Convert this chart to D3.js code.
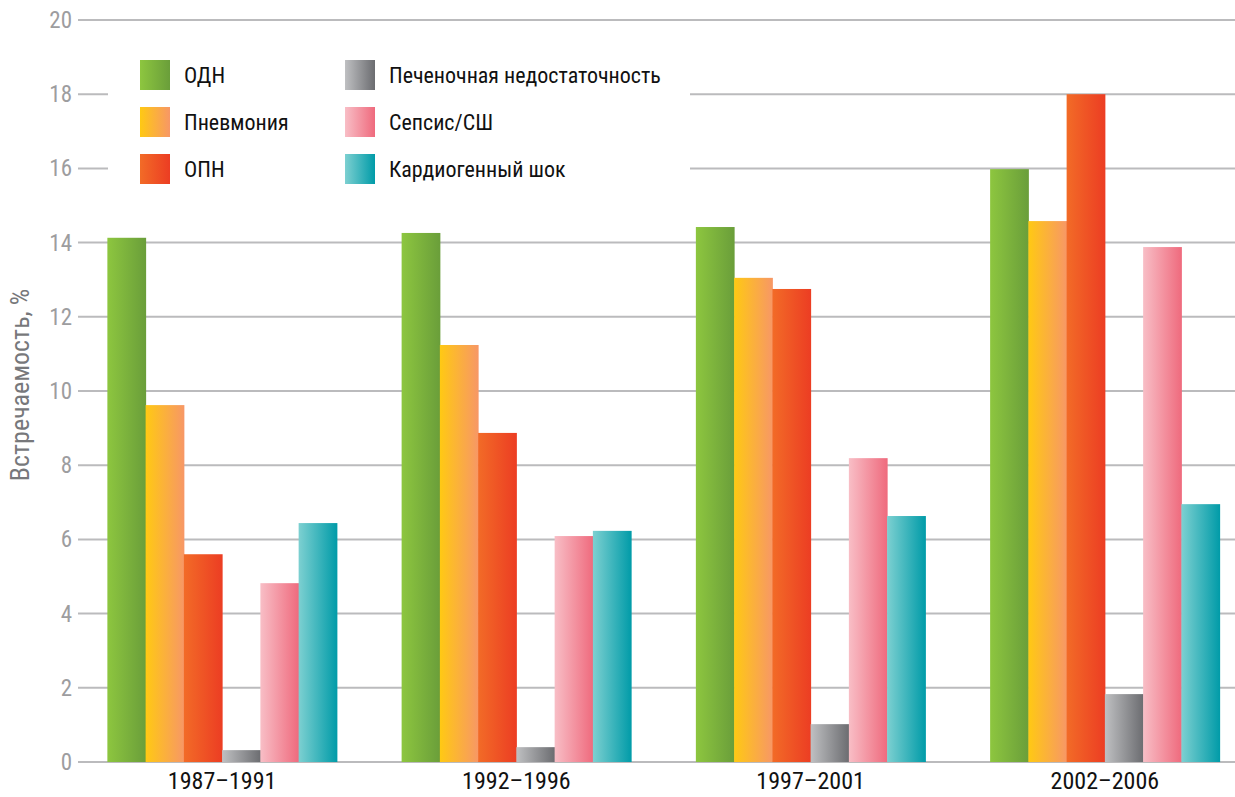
<!DOCTYPE html>
<html><head><meta charset="utf-8">
<script src="https://cdn.jsdelivr.net/npm/d3@7"></script>
<style>
body{margin:0;background:#fff;}
svg text{font-family:"Liberation Sans Narrow","Roboto Condensed","Roboto","Liberation Sans",sans-serif;}
</style></head>
<body><svg id="c" width="1235" height="797"></svg>
<script>
const categories = ["1987–1991","1992–1996","1997–2001","2002–2006"];
const seriesNames = ["ОДН","Пневмония","ОПН","Печеночная недостаточность","Сепсис/СШ","Кардиогенный шок"];
const odn = [14.13, 14.26, 14.42, 15.98];
const pneumonia = [9.62, 11.24, 13.05, 14.58];
const opn = [5.6, 8.87, 12.75, 18.0];
const liver = [0.32, 0.4, 1.02, 1.83];
const sepsis = [4.82, 6.09, 8.19, 13.88];
const cardio = [6.44, 6.23, 6.63, 6.95];
const yTicks = [0,2,4,6,8,10,12,14,16,18,20];
const gradColors = [["#8dc63f","#6a9e3a"],["#ffc913","#f79766"],["#f26b27","#ec3d23"],["#bfc0c2","#6b6c70"],["#f8bec6","#ef6a7d"],["#7dd0d1","#009ba8"]];

const values = [odn, pneumonia, opn, liver, sepsis, cardio];
const svg = d3.select("#c");
const defs = svg.append("defs");
gradColors.forEach((c,i)=>{
  const g = defs.append("linearGradient").attr("id","g"+i).attr("x1","0%").attr("x2","100%").attr("y1","0%").attr("y2","0%");
  g.append("stop").attr("offset","0%").attr("stop-color",c[0]);
  g.append("stop").attr("offset","100%").attr("stop-color",c[1]);
});

const y = d3.scaleLinear().domain([0,20]).range([762,20]);
const x0 = d3.scaleBand().domain(categories).range([75,1252]).paddingInner(0.22).paddingOuter(0.11);
const x1 = d3.scaleBand().domain(d3.range(6)).range([0,x0.bandwidth()]);

// gridlines
svg.append("g").selectAll("line").data(yTicks).join("line")
  .attr("x1",78).attr("x2",1235).attr("y1",d=>y(d)).attr("y2",d=>y(d))
  .attr("stroke","#bbbbbd").attr("stroke-width",2);

// legend background
svg.append("rect").attr("x",108).attr("y",40).attr("width",582).attr("height",155).attr("fill","#fff");

// y tick labels
svg.append("g").selectAll("text").data(yTicks).join("text")
  .attr("x",72).attr("y",d=>y(d)).attr("dy","0.35em").attr("text-anchor","end")
  .attr("fill","#9d9d9f").attr("font-size",23).text(d=>d);

// y title
svg.append("text").attr("transform","translate(29,385) rotate(-90)").attr("text-anchor","middle")
  .attr("fill","#77787b").attr("font-size",26).text("Встречаемость, %");

// bars
const groups = svg.append("g").selectAll("g").data(categories).join("g")
  .attr("transform",d=>`translate(${x0(d)},0)`);
groups.selectAll("rect").data((d,ci)=>values.map((s,si)=>({si,v:s[ci]}))).join("rect")
  .attr("x",d=>x1(d.si)).attr("width",x1.bandwidth()+0.5)
  .attr("y",d=>y(d.v)).attr("height",d=>y(0)-y(d.v))
  .attr("fill",d=>`url(#g${d.si})`);

// category labels
svg.append("g").selectAll("text").data(categories).join("text")
  .attr("x",d=>x0(d)+x0.bandwidth()/2).attr("y",789).attr("text-anchor","middle")
  .attr("fill","#111").attr("font-size",24).text(d=>d);

// legend
const lg = svg.append("g");
seriesNames.forEach((n,i)=>{
  const col = Math.floor(i/3), row = i%3;
  const lx = col===0?140:345, ly = 60 + row*47;
  lg.append("rect").attr("x",lx).attr("y",ly).attr("width",30).attr("height",30).attr("fill",`url(#g${i})`);
  lg.append("text").attr("x",lx+44).attr("y",ly+15).attr("dy","0.35em").attr("fill","#111").attr("font-size",22).text(n);
});
</script></body></html>
